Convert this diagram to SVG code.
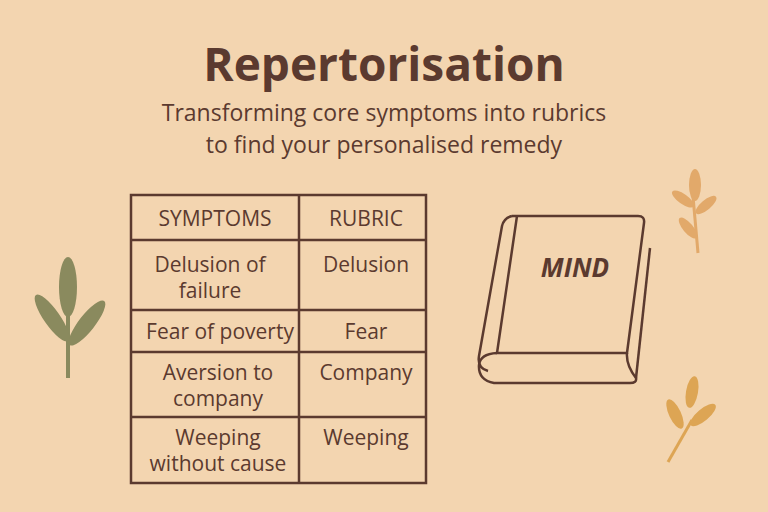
<svg xmlns="http://www.w3.org/2000/svg" width="768" height="512" viewBox="0 0 768 512">
<style>
.t{font-family:"Open Sans","Liberation Sans",sans-serif;fill:#5b3a2f}
.c{font-size:21px;text-anchor:middle}
.ln{stroke:#5b3a2f;stroke-width:2.5;fill:none}
</style>
<rect width="768" height="512" fill="#f3d5b0"/>
<text class="t" x="384" y="81" font-size="46" font-weight="bold" text-anchor="middle">Repertorisation</text>
<text class="t" x="384" y="121" font-size="23" text-anchor="middle">Transforming core symptoms into rubrics</text>
<text class="t" x="384" y="153" font-size="23" text-anchor="middle">to find your personalised remedy</text>
<g id="table">
<rect x="131" y="195" width="295" height="288" class="ln"/>
<path class="ln" d="M299 195V483M131 240H426M131 310H426M131 352H426M131 417H426"/>
<text class="t c" x="215" y="226">SYMPTOMS</text>
<text class="t c" x="366" y="226">RUBRIC</text>
<text class="t c" x="210" y="272">Delusion of</text>
<text class="t c" x="210" y="298">failure</text>
<text class="t c" x="366" y="272">Delusion</text>
<text class="t c" x="220" y="339">Fear of poverty</text>
<text class="t c" x="366" y="339">Fear</text>
<text class="t c" x="218" y="380">Aversion to</text>
<text class="t c" x="218" y="406">company</text>
<text class="t c" x="366" y="380">Company</text>
<text class="t c" x="218" y="445">Weeping</text>
<text class="t c" x="218" y="471">without cause</text>
<text class="t c" x="366" y="445">Weeping</text>
</g>
<g id="book" class="ln">
<path d="M512 216H638Q645 216 644 223L627 353H497L517 216"/>
<path d="M512 216Q504 218 502 226L479 356Q477 368 488 371"/>
<path d="M497 353Q480 354 479 365Q478 380 494 383H630Q637 383 636 378Q626 365 627 353"/>
<path d="M650 248L636 378"/>
<text x="575" y="277" font-family="Open Sans,Liberation Sans,sans-serif" font-size="26" font-weight="bold" font-style="italic" fill="#5b3a2f" stroke="none" text-anchor="middle">MIND</text>
</g>
<g id="leaf-left" fill="#8a8a5e">
<path d="M68 378V300" stroke="#8a8a5e" stroke-width="4"/>
<ellipse cx="68" cy="287" rx="9" ry="30"/>
<ellipse cx="52" cy="318" rx="8" ry="28" transform="rotate(-35 52 318)"/>
<ellipse cx="87" cy="323" rx="8" ry="28" transform="rotate(38 87 323)"/>
</g>
<g id="leaf-tr" fill="#e2a96a">
<path d="M698 253L692 185" stroke="#e2a96a" stroke-width="3" fill="none"/>
<ellipse cx="695" cy="185" rx="6" ry="16"/>
<ellipse cx="683" cy="199" rx="5" ry="13" transform="rotate(-55 683 199)"/>
<ellipse cx="706" cy="205" rx="5" ry="13" transform="rotate(50 706 205)"/>
<ellipse cx="688" cy="228" rx="5" ry="13" transform="rotate(-40 688 228)"/>
</g>
<g id="leaf-br" fill="#dda554">
<path d="M668 462L692 420" stroke="#dda554" stroke-width="3" fill="none"/>
<ellipse cx="692" cy="392" rx="6" ry="16" transform="rotate(10 692 392)"/>
<ellipse cx="675" cy="414" rx="6" ry="16" transform="rotate(-25 675 414)"/>
<ellipse cx="703" cy="415" rx="6" ry="16" transform="rotate(50 703 415)"/>
</g>
</svg>
